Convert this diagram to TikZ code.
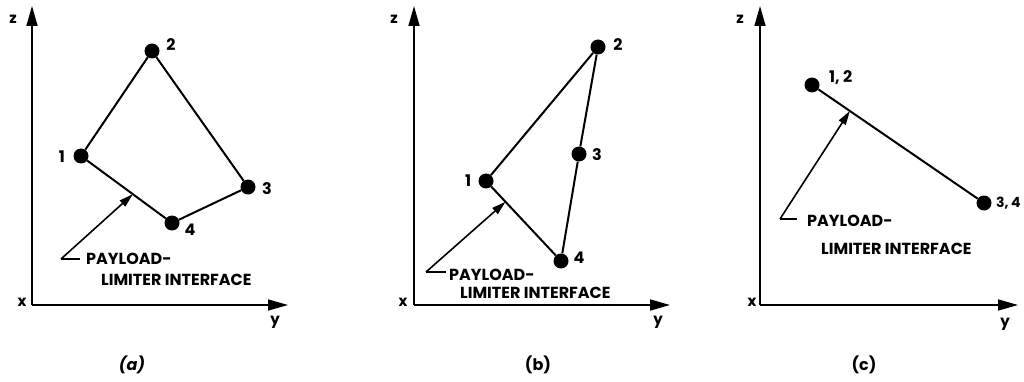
\documentclass[tikz,border=0pt]{standalone}
\usepackage{fontspec}
\setmainfont{Poppins}
\usetikzlibrary{arrows.meta}
\tikzset{
  dot/.style={circle,fill=black,inner sep=0pt,minimum size=15pt},
  edge/.style={line width=2pt},
  axis/.style={line width=1.6pt,-{Triangle[length=20pt,width=11pt]}},
  ptr/.style={line width=1.6pt,-{Triangle[length=14pt,width=8pt]}},
  lead/.style={line width=1.2pt},
  lbl/.style={font=\bfseries\fontsize{16}{16}\selectfont,inner sep=0pt},
  txt/.style={font=\bfseries\fontsize{16}{16}\selectfont,inner sep=0pt,anchor=west},
  ax/.style={font=\bfseries\fontsize{15}{15}\selectfont,inner sep=0pt},
  captxt/.style={font=\bfseries\fontsize{16}{16}\selectfont,inner sep=0pt}
}
\begin{document}
\begin{tikzpicture}[x=1pt,y=-1pt]
\useasboundingbox (0,0) rectangle (1024,382);
% ---------- panel (a)
\coordinate (ao) at (32,305);
\coordinate (az) at (32,6);
\coordinate (ay) at (288,305);
\draw[axis] (ao) -- (az);
\draw[axis] (ao) -- (ay);
\node[ax] (azl) at (13,19) {z};
\node[ax] (axl) at (22,302) {x};
\node[ax] (ayl) at (275,322) {y};
\node[dot] (a1) at (81,156) {};
\node[dot] (a2) at (152,51) {};
\node[dot] (a3) at (248,187) {};
\node[dot] (a4) at (172,223) {};
\node[lbl] (a1l) at (62,157) {1};
\node[lbl] (a2l) at (171,45) {2};
\node[lbl] (a3l) at (267,189) {3};
\node[lbl] (a4l) at (190,230) {4};
\draw[edge] (a1) -- (a2) -- (a3) -- (a4) -- (a1);
\path (a1.center) -- (a4.center) coordinate[pos=0.57] (ai);
\coordinate (al) at (61,259);
\coordinate (ale) at (80,259);
\draw[ptr] (al) -- (ai);
\draw[lead] (al) -- (ale);
\node[txt] (at1) at (86,259) {PAYLOAD-};
\node[txt] (at2) at (101,280) {LIMITER INTERFACE};
\node[captxt] (acap) at (132,365) {\itshape (a)};
% ---------- panel (b)
\coordinate (bo) at (414,305);
\coordinate (bz) at (414,6);
\coordinate (by) at (670,305);
\draw[axis] (bo) -- (bz);
\draw[axis] (bo) -- (by);
\node[ax] (bzl) at (394,19) {z};
\node[ax] (bxl) at (403,302) {x};
\node[ax] (byl) at (658,322) {y};
\node[dot] (b1) at (486,181) {};
\node[dot] (b2) at (598,47) {};
\node[dot] (b3) at (579,154) {};
\node[dot] (b4) at (561,261) {};
\node[lbl] (b1l) at (468,181) {1};
\node[lbl] (b2l) at (618,45) {2};
\node[lbl] (b3l) at (597,155) {3};
\node[lbl] (b4l) at (579,258) {4};
\draw[edge] (b1) -- (b2) -- (b3) -- (b4) -- (b1);
\path (b1.center) -- (b4.center) coordinate[pos=0.26] (bi);
\coordinate (bl) at (426,272);
\coordinate (ble) at (446,272);
\draw[ptr] (bl) -- (bi);
\draw[lead] (bl) -- (ble);
\node[txt] (bt1) at (449,275) {PAYLOAD-};
\node[txt] (bt2) at (460,293) {LIMITER INTERFACE};
\node[captxt] (bcap) at (538,365) {(b)};
% ---------- panel (c)
\coordinate (co) at (760,305);
\coordinate (cz) at (760,6);
\coordinate (cy) at (1018,305);
\draw[axis] (co) -- (cz);
\draw[axis] (co) -- (cy);
\node[ax] (czl) at (740,19) {z};
\node[ax] (cxl) at (752,302) {x};
\node[ax] (cyl) at (1005,324) {y};
\node[dot] (c12) at (812,85) {};
\node[dot] (c34) at (984,203) {};
\node[lbl,anchor=west] (c12l) at (829,78) {1, 2};
\node[lbl,anchor=west,font=\bfseries\fontsize{14}{14}\selectfont] (c34l) at (996,203) {3,\,4};
\draw[edge] (c12) -- (c34);
\path (c12.center) -- (c34.center) coordinate[pos=0.22] (ci);
\coordinate (cl) at (780,219);
\coordinate (cle) at (797,219);
\draw[ptr] (cl) -- (ci);
\draw[lead] (cl) -- (cle);
\node[txt] (ct1) at (807,221) {PAYLOAD-};
\node[txt] (ct2) at (821,249) {LIMITER INTERFACE};
\node[captxt] (ccap) at (864,365) {(c)};
\end{tikzpicture}
\end{document}
